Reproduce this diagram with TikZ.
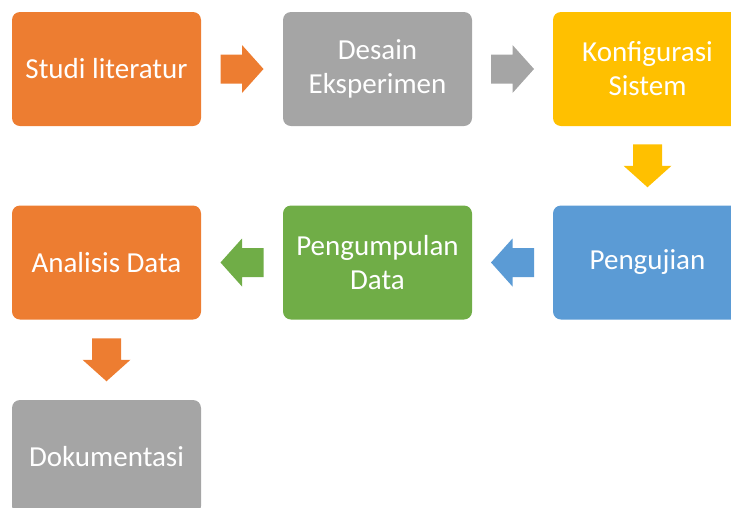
\documentclass[tikz,border=0pt]{standalone}
\usepackage{fontspec}
\setmainfont{Carlito}
\usetikzlibrary{calc}
\definecolor{orangeC}{HTML}{ED7D31}
\definecolor{grayC}{HTML}{A5A5A5}
\definecolor{yellowC}{HTML}{FFC000}
\definecolor{blueC}{HTML}{5B9BD5}
\definecolor{greenC}{HTML}{70AD47}
\begin{document}
\begin{tikzpicture}[x=1pt, y=-1pt]
	\tikzset{box/.style={rounded corners=8pt, minimum width=189pt, minimum height=114pt, inner sep=0pt, text=white, align=center, font=\fontsize{29}{34}\selectfont}};
	\tikzset{blockarr/.pic={\fill (-21.5,-14.5) -- (0,-14.5) -- (0,-24) -- (21.5,0) -- (0,24) -- (0,14.5) -- (-21.5,14.5) -- cycle;}};

	\useasboundingbox (0,0) rectangle (731,507);
	\clip (0,0) rectangle (731,507);

	\node[box, fill=orangeC] (studi) at (106.5, 69) {Studi literatur};
	\node[box, fill=grayC] (desain) at (377.5, 69) {Desain\\Eksperimen};
	\node[box, fill=yellowC] (konfig) at (647.5, 69) {Konfigurasi\\Sistem};
	\node[box, fill=blueC] (uji) at (647.5, 262.5) {Pengujian};
	\node[box, fill=greenC] (kumpul) at (377.5, 262.5) {Pengumpulan\\Data};
	\node[box, fill=orangeC] (analisis) at (106.5, 262.5) {Analisis Data};
	\node[box, fill=grayC] (dok) at (106.5, 457) {Dokumentasi};

	\pic[orangeC] at ($(studi.east)!0.5!(desain.west)$) {blockarr};
	\pic[grayC] at ($(desain.east)!0.5!(konfig.west)$) {blockarr};
	\pic[yellowC, rotate=-90] at ($(konfig.south)!0.5!(uji.north)$) {blockarr};
	\pic[blueC, rotate=180] at ($(uji.west)!0.5!(kumpul.east)$) {blockarr};
	\pic[greenC, rotate=180] at ($(kumpul.west)!0.5!(analisis.east)$) {blockarr};
	\pic[orangeC, rotate=-90] at ($(analisis.south)!0.5!(dok.north)$) {blockarr};
\end{tikzpicture}
\end{document}
